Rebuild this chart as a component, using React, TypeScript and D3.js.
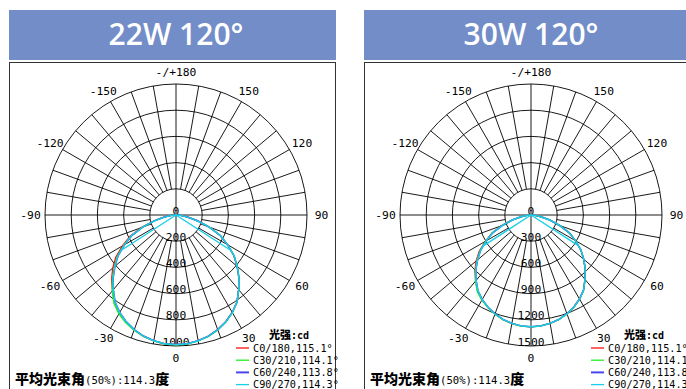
import React from 'react';
import * as d3 from 'd3';

// ---- data ----
const GAMMA = [-90,-85,-80,-75,-70,-65,-60,-55,-50,-45,-40,-35,-30,-25,-20,-15,-10,-5,0,5,10,15,20,25,30,35,40,45,50,55,60,65,70,75,80,85,90];

const TITLES = ['22W 120°', '30W 120°'];
const RING_TICKS_22 = [0, 200, 400, 600, 800, 1000];
const RING_TICKS_30 = [0, 300, 600, 900, 1200, 1500];
const ANGLE_LABELS = [
  { g: 0, t: '0' }, { g: 30, t: '30' }, { g: -30, t: '-30' }, { g: 60, t: '60' }, { g: -60, t: '-60' },
  { g: 90, t: '90' }, { g: -90, t: '-90' }, { g: 120, t: '120' }, { g: -120, t: '-120' },
  { g: 150, t: '150' }, { g: -150, t: '-150' }, { g: 180, t: '-/+180' },
];
const LEGEND_NAMES = ['C0/180,115.1°', 'C30/210,114.1°', 'C60/240,113.8°', 'C90/270,114.3°'];
const COLORS = ['#ff1010', '#22ee22', '#4848f0', '#18cfe8'];
const AVG_BEAM = 114.3;

const W22_C0 = [0,38,95,178,282,388,472,560,630,695,755,815,862,902,934,959,976,988,990,986,974,957,931,899,859,811,744,679,609,539,454,374,269,169,89,34,0];
const W22_C30 = [0,36,92,172,273,378,458,545,615,686,756,825,871,908,936,960,976,988,991,988,976,959,933,901,861,813,746,681,611,541,456,376,271,171,91,36,0];
const W22_C60 = [0,34,88,168,268,372,452,537,607,677,743,810,858,898,930,956,974,986,989,986,974,957,931,899,859,811,744,679,609,539,454,374,269,169,89,34,0];
const W22_C90 = [0,35,90,170,270,375,455,540,610,680,745,812,860,900,932,958,975,987,990,987,975,958,932,900,860,812,745,680,610,540,455,375,270,170,90,35,0];

const W30_C0 = [0,48,122,228,358,495,602,722,820,908,985,1064,1120,1167,1207,1239,1262,1277,1281,1275,1260,1237,1204,1162,1111,1049,962,878,788,697,587,484,348,219,115,44,0];
const W30_C30 = [0,46,118,223,352,489,594,710,806,900,988,1072,1126,1170,1208,1240,1262,1277,1281,1276,1261,1238,1205,1163,1112,1050,963,879,789,698,588,485,349,220,116,45,0];
const W30_C60 = [0,44,114,218,347,483,588,703,798,893,976,1058,1116,1164,1204,1237,1260,1275,1279,1275,1260,1237,1204,1162,1111,1049,962,878,788,697,587,484,348,219,115,44,0];
const W30_C90 = [0,45,116,220,349,485,590,705,800,895,978,1060,1118,1166,1206,1238,1261,1276,1280,1276,1261,1238,1205,1163,1112,1050,963,879,789,698,588,485,349,220,116,45,0];

const MONO = '"DejaVu Sans Mono", monospace';
const CJK = '"Noto Sans CJK SC", sans-serif';

const R = 131;
const rad = (g: number) => (g * Math.PI) / 180;

function Panel({ ox, title, ticks, series }: { ox: number; title: string; ticks: number[]; series: number[][] }) {
  const cx = 176 + ox;
  const cy = 215;
  const rScale = d3.scaleLinear().domain([0, ticks[ticks.length - 1]]).range([0, R]);
  const rings = ticks.slice(1);
  const r1 = rScale(ticks[1]);
  const spokes = d3.range(-170, 190, 10).filter((g) => g % 90 !== 0);
  const line = d3
    .lineRadial<number>()
    .angle((_, i) => Math.PI - rad(GAMMA[i]))
    .radius((d) => rScale(d));
  const pt = (g: number, v: number) => [cx + rScale(v) * Math.sin(rad(g)), cy + rScale(v) * Math.cos(rad(g))];
  const cyan = series[3];
  const interp = d3.scaleLinear().domain(GAMMA).range(cyan);
  const half = AVG_BEAM / 2;
  const bl = pt(-half, interp(-half));
  const br = pt(half, interp(half));

  return (
    <g>
      <rect x={9 + ox} y={10} width={327} height={50} fill="#728dc8" />
      <text x={cx} y={45} textAnchor="middle" fill="#fff" fontFamily='"Open Sans", sans-serif' fontWeight={600} fontSize={30}>
        {title}
      </text>
      <rect x={9.5 + ox} y={62.5} width={326} height={340} fill="#fff" stroke="#333" strokeWidth={1} />
      <g stroke="#000" strokeWidth={0.9} fill="none">
        {rings.map((t) => (
          <circle key={t} cx={cx} cy={cy} r={rScale(t)} />
        ))}
        {spokes.map((g) => (
          <line key={g} x1={cx + r1 * Math.sin(rad(g))} y1={cy + r1 * Math.cos(rad(g))} x2={cx + R * Math.sin(rad(g))} y2={cy + R * Math.cos(rad(g))} />
        ))}
        <line x1={cx - R} y1={cy} x2={cx + R} y2={cy} />
        <line x1={cx} y1={cy - R} x2={cx} y2={cy + R} />
      </g>
      <g fontFamily={MONO} fontSize={11.3} fill="#000">
        {ticks.map((t) => (
          <text key={t} x={cx} y={cy + rScale(t) - 0.5} textAnchor="middle">
            {t}
          </text>
        ))}
        {ANGLE_LABELS.map((a) => (
          <text key={a.t} x={cx + 145.5 * Math.sin(rad(a.g))} y={cy + 143 * Math.cos(rad(a.g))} textAnchor="middle" dominantBaseline="central">
            {a.t}
          </text>
        ))}
      </g>
      <g fill="none" strokeWidth={1.4} transform={`translate(${cx},${cy})`}>
        {series.map((s, i) => (
          <path key={i} d={line(s) || ''} stroke={COLORS[i]} />
        ))}
      </g>
      <polyline points={`${bl[0]},${bl[1]} ${cx},${cy} ${br[0]},${br[1]}`} fill="none" stroke={COLORS[3]} strokeWidth={1.4} />
      <text x={269 + ox} y={339}>
        <tspan fontFamily={CJK} fontWeight={900} fontSize={11}>光强</tspan>
        <tspan fontFamily={MONO} fontSize={10} fontWeight={700}>:cd</tspan>
      </text>
      {LEGEND_NAMES.map((n, i) => {
        const y = 348 + i * 12.2;
        return (
          <g key={n}>
            <line x1={236 + ox} x2={249 + ox} y1={y} y2={y} stroke={COLORS[i]} strokeWidth={i === 2 ? 2 : 1.3} />
            <text x={253 + ox} y={y} dominantBaseline="central" fontFamily={MONO} fontSize={10.2}>
              {n}
            </text>
          </g>
        );
      })}
      <text x={15 + ox} y={384}>
        <tspan fontFamily={CJK} fontWeight={900} fontSize={14}>平均光束角</tspan>
        <tspan fontFamily={MONO} fontSize={10.6}>(50%):{AVG_BEAM}</tspan>
        <tspan fontFamily={CJK} fontWeight={900} fontSize={14}>度</tspan>
      </text>
    </g>
  );
}

export default function App() {
  return (
    <svg width={686} height={389} style={{ position: 'absolute', left: 0, top: 0, background: '#fff' }}>
      <rect width={686} height={389} fill="#fff" />
      <Panel ox={0} title={TITLES[0]} ticks={RING_TICKS_22} series={[W22_C0, W22_C30, W22_C60, W22_C90]} />
      <Panel ox={355} title={TITLES[1]} ticks={RING_TICKS_30} series={[W30_C0, W30_C30, W30_C60, W30_C90]} />
    </svg>
  );
}
